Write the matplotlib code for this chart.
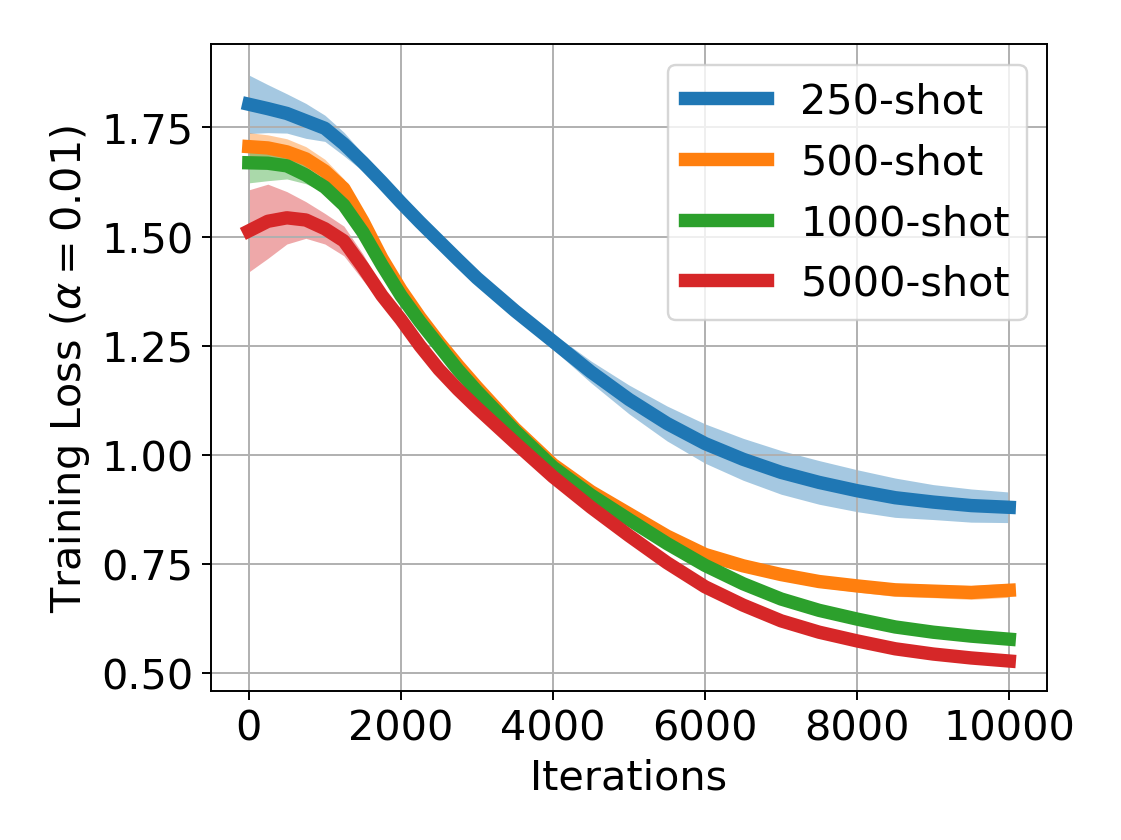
import numpy as np
import matplotlib
matplotlib.use('Agg')
import matplotlib.pyplot as plt

iters = [0, 250, 500, 750, 1000, 1250, 1500, 1750, 2000, 2250, 2500, 2750, 3000,
         3500, 4000, 4500, 5000, 5500, 6000, 6500, 7000, 7500, 8000, 8500, 9000, 9500, 10000]

labels = ['250-shot', '500-shot', '1000-shot', '5000-shot']

# mean training loss
loss_250 = [1.803, 1.793, 1.782, 1.765, 1.748, 1.712, 1.67, 1.625, 1.578, 1.533, 1.49, 1.447, 1.405,
            1.33, 1.26, 1.19, 1.127, 1.072, 1.026, 0.99, 0.96, 0.937, 0.918, 0.902, 0.892, 0.884, 0.88]
loss_500 = [1.706, 1.703, 1.694, 1.678, 1.65, 1.61, 1.535, 1.45, 1.378, 1.315, 1.258, 1.205, 1.155,
            1.06, 0.978, 0.916, 0.865, 0.814, 0.772, 0.746, 0.726, 0.71, 0.70, 0.691, 0.688, 0.685, 0.69]
loss_1000 = [1.669, 1.668, 1.662, 1.641, 1.613, 1.572, 1.51, 1.435, 1.365, 1.305, 1.25, 1.195, 1.146,
             1.055, 0.972, 0.908, 0.852, 0.797, 0.747, 0.705, 0.67, 0.644, 0.624, 0.606, 0.594, 0.585, 0.578]
loss_5000 = [1.513, 1.535, 1.543, 1.538, 1.518, 1.49, 1.43, 1.365, 1.31, 1.25, 1.196, 1.15, 1.108,
             1.028, 0.95, 0.88, 0.815, 0.753, 0.698, 0.656, 0.62, 0.594, 0.574, 0.556, 0.544, 0.535, 0.528]

# half-width of the shaded band
spread_250 = [0.067, 0.055, 0.045, 0.04, 0.03, 0.027, 0.02, 0.017, 0.015, 0.015, 0.015, 0.015, 0.015,
              0.015, 0.018, 0.025, 0.033, 0.04, 0.045, 0.048, 0.05, 0.05, 0.048, 0.045, 0.04, 0.038, 0.035]
spread_500 = [0.032, 0.03, 0.03, 0.028, 0.027, 0.022, 0.015, 0.01, 0.008, 0.008, 0.008, 0.008, 0.008,
              0.008, 0.008, 0.009, 0.01, 0.011, 0.012, 0.012, 0.013, 0.013, 0.014, 0.015, 0.015, 0.016, 0.016]
spread_1000 = [0.046, 0.04, 0.03, 0.02, 0.012, 0.008, 0.006, 0.006, 0.006, 0.006, 0.006, 0.006, 0.006,
               0.006, 0.006, 0.006, 0.006, 0.006, 0.006, 0.006, 0.006, 0.006, 0.006, 0.006, 0.006, 0.006, 0.006]
spread_5000 = [0.094, 0.085, 0.06, 0.042, 0.035, 0.034, 0.03, 0.02, 0.012, 0.008, 0.006, 0.006, 0.006,
               0.006, 0.006, 0.006, 0.006, 0.006, 0.006, 0.006, 0.006, 0.006, 0.006, 0.006, 0.006, 0.006, 0.006]

means = [loss_250, loss_500, loss_1000, loss_5000]
spreads = [spread_250, spread_500, spread_1000, spread_5000]
colors = ['tab:blue', 'tab:orange', 'tab:green', 'tab:red']

plt.rcParams['font.size'] = 17

fig, ax = plt.subplots(figsize=(6.4, 4.8), dpi=175.2)

x = np.array(iters)
for m, s, c, lab in zip(means, spreads, colors, labels):
    m = np.array(m)
    s = np.array(s)
    ax.fill_between(x, m - s, m + s, color=c, alpha=0.4, linewidth=0)
    ax.plot(x, m, color=c, linewidth=5.5, label=lab)

ax.grid(True)
ax.set_xlabel('Iterations')
ax.set_ylabel(r'Training Loss ($\alpha = 0.01$)')
ax.set_ylim(0.459, 1.94)
ax.set_yticks([0.5, 0.75, 1.0, 1.25, 1.5, 1.75])
ax.legend(loc='upper right')

fig.subplots_adjust(left=0.188, right=0.934, top=0.946, bottom=0.177)
fig.savefig('out.png')
